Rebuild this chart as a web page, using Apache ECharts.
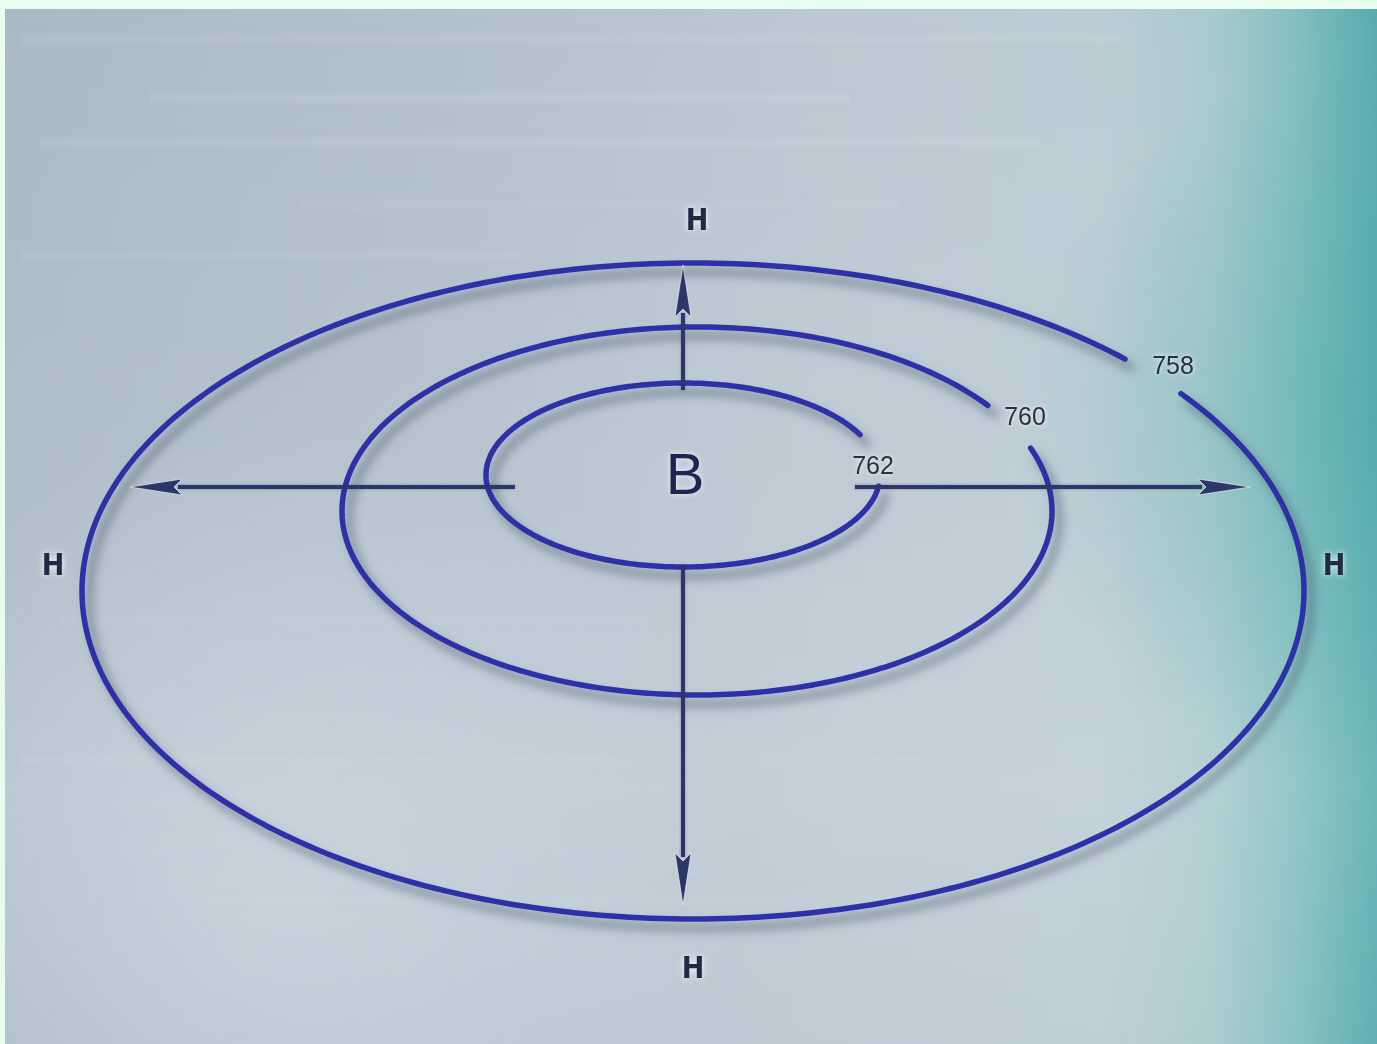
<!DOCTYPE html>
<html>
<head>
<meta charset="utf-8">
<script src="https://cdn.jsdelivr.net/npm/echarts@6/dist/echarts.min.js"></script>
<style>
html,body{margin:0;padding:0;background:#e8fdf0;}
#chart{width:1377px;height:1044px;}
</style>
</head>
<body>
<div id="chart"></div>
<script>
// Isobars (pressure, mm Hg) of the anticyclone
const isobarLevels = [762, 760, 758];
const isobarCenterX = [683, 697, 693];
const isobarCenterY = [475, 511, 591];
const isobarRadiusX = [197, 355, 611];
const isobarRadiusY = [92, 184, 328];
const gapStartDeg = [-26, -35, -45];
const gapEndDeg = [7, -20, -37];
const levelLabelX = [873, 1025, 1173];
const levelLabelY = [467, 418, 367];

// Wind arrows from the high-pressure centre
const arrowFromX = [515, 855, 683, 683];
const arrowFromY = [487, 487, 390, 565];
const arrowToX = [130, 1250, 683, 683];
const arrowToY = [487, 487, 265, 905];

// Pressure marks
const lowMarks = ['Н', 'Н', 'Н', 'Н'];
const lowMarkX = [697, 53, 1334, 693];
const lowMarkY = [222, 567, 567, 970];
const highMark = ['В'];
const highMarkX = [685];
const highMarkY = [478];

const isobarData = isobarLevels.map((v, i) => [isobarCenterX[i], isobarCenterY[i], isobarRadiusX[i], isobarRadiusY[i], gapStartDeg[i], gapEndDeg[i], v]);
const levelLabelData = isobarLevels.map((v, i) => [levelLabelX[i], levelLabelY[i], v]);
const arrowData = arrowFromX.map((v, i) => [v, arrowFromY[i], arrowToX[i], arrowToY[i]]);
const lowData = lowMarks.map((t, i) => [lowMarkX[i], lowMarkY[i], t]);
const highData = highMark.map((t, i) => [highMarkX[i], highMarkY[i], t]);

const chart = echarts.init(document.getElementById('chart'), null, {renderer: 'canvas'});

const W = 1377, H = 1044;
// decorative background streaks: [y, x start, width, opacity]
const streaks = [
  [38, 20, 1100, 0.07], [98, 150, 700, 0.10], [142, 40, 1000, 0.09], [205, 300, 600, 0.05],
  [255, 20, 500, 0.06], [620, 60, 600, 0.04], [760, 20, 900, 0.05], [900, 200, 700, 0.04]
];

const option = {
  backgroundColor: '#e8fdf0',
  animation: false,
  grid: {left: 0, right: 0, top: 0, bottom: 0},
  xAxis: {type: 'value', min: 0, max: W, show: false},
  yAxis: {type: 'value', min: 0, max: H, inverse: true, show: false},
  graphic: [
    {
      type: 'rect', z: -10, silent: true,
      shape: {x: 5, y: 9, width: W - 5, height: H - 9},
      style: {
        fill: new echarts.graphic.LinearGradient(0, 0, 1, 0, [
          {offset: 0, color: '#a8b7c5'},
          {offset: 0.35, color: '#b1bfcc'},
          {offset: 0.6, color: '#bac6d1'},
          {offset: 0.8, color: '#b9cad3'},
          {offset: 0.88, color: '#a6c8cc'},
          {offset: 0.94, color: '#80bdbf'},
          {offset: 1, color: '#52a9ab'}
        ])
      }
    },
    {
      type: 'rect', z: -9, silent: true,
      shape: {x: 5, y: 9, width: W - 5, height: H - 9},
      style: {
        fill: new echarts.graphic.LinearGradient(0, 0, 0, 1, [
          {offset: 0, color: 'rgba(255,255,255,0.03)'},
          {offset: 0.5, color: 'rgba(255,255,255,0.10)'},
          {offset: 0.75, color: 'rgba(255,255,255,0.16)'},
          {offset: 1, color: 'rgba(255,255,255,0.08)'}
        ])
      }
    },
    {
      type: 'rect', z: -9, silent: true,
      shape: {x: 5, y: 9, width: W - 5, height: H - 9},
      style: {
        fill: new echarts.graphic.RadialGradient(0.2, 0.85, 0.45, [
          {offset: 0, color: 'rgba(225,232,240,0.4)'},
          {offset: 1, color: 'rgba(225,232,240,0)'}
        ])
      }
    },
    {
      type: 'rect', z: -9, silent: true,
      shape: {x: 5, y: 9, width: W - 5, height: H - 9},
      style: {
        fill: new echarts.graphic.RadialGradient(1.0, 0.4, 0.35, [
          {offset: 0, color: 'rgba(60,165,160,0.35)'},
          {offset: 1, color: 'rgba(60,165,160,0)'}
        ])
      }
    }
  ].concat(streaks.map(s => ({
    type: 'rect', z: -8, silent: true,
    shape: {x: s[1], y: s[0] - 9, width: s[2], height: 18},
    style: {
      fill: new echarts.graphic.LinearGradient(0, 0, 0, 1, [
        {offset: 0, color: 'rgba(255,255,255,0)'},
        {offset: 0.5, color: 'rgba(255,255,255,' + s[3] + ')'},
        {offset: 1, color: 'rgba(255,255,255,0)'}
      ])
    }
  }))),
  series: [
    {
      type: 'custom',
      name: 'isobars',
      coordinateSystem: 'cartesian2d',
      data: isobarData,
      z: 2,
      renderItem: function (params, api) {
        const c = api.coord([api.value(0), api.value(1)]);
        const sz = api.size([api.value(2), api.value(3)]);
        const a0 = api.value(5), a1 = api.value(4) + 360;
        const pts = [];
        for (let a = a0; a <= a1 + 0.001; a += 1) {
          const t = a * Math.PI / 180;
          pts.push([c[0] + sz[0] * Math.cos(t), c[1] + sz[1] * Math.sin(t)]);
        }
        return {
          type: 'polyline',
          shape: {points: pts},
          style: {
            stroke: '#2d30a6', lineWidth: 5.5, fill: null, lineCap: 'round',
            shadowBlur: 10, shadowColor: 'rgba(55,65,85,0.55)', shadowOffsetX: 7, shadowOffsetY: 9
          }
        };
      }
    },
    {
      type: 'custom',
      name: 'arrows',
      coordinateSystem: 'cartesian2d',
      data: arrowData,
      z: 3,
      renderItem: function (params, api) {
        const p0 = api.coord([api.value(0), api.value(1)]);
        const p1 = api.coord([api.value(2), api.value(3)]);
        const dx = p1[0] - p0[0], dy = p1[1] - p0[1];
        const len = Math.sqrt(dx * dx + dy * dy);
        const ux = dx / len, uy = dy / len;
        const headLen = 52, headW = 8;
        const bx = p1[0] - ux * headLen, by = p1[1] - uy * headLen;
        const nx = -uy, ny = ux;
        const col = '#2b3768';
        return {
          type: 'group',
          children: [
            {
              type: 'line',
              shape: {x1: p0[0], y1: p0[1], x2: bx + ux * 4, y2: by + uy * 4},
              style: {stroke: col, lineWidth: 4, shadowBlur: 3, shadowColor: 'rgba(40,50,90,0.4)'}
            },
            {
              type: 'polygon',
              shape: {points: [[p1[0], p1[1]], [bx + nx * headW, by + ny * headW], [bx + ux * 8, by + uy * 8], [bx - nx * headW, by - ny * headW]]},
              style: {fill: col, stroke: 'rgba(255,255,255,0.6)', lineWidth: 1}
            }
          ]
        };
      }
    },
    {
      type: 'custom',
      name: 'levels',
      coordinateSystem: 'cartesian2d',
      data: levelLabelData,
      z: 4,
      renderItem: function (params, api) {
        const p = api.coord([api.value(0), api.value(1)]);
        return {
          type: 'text',
          style: {
            x: p[0], y: p[1], text: String(api.value(2)),
            align: 'center', verticalAlign: 'middle',
            font: '25px "Liberation Sans", Arial, sans-serif',
            fill: '#283044', textShadowColor: 'rgba(255,255,255,0.9)', textShadowBlur: 4
          }
        };
      }
    },
    {
      type: 'custom',
      name: 'low',
      coordinateSystem: 'cartesian2d',
      data: lowData,
      z: 4,
      renderItem: function (params, api) {
        const p = api.coord([api.value(0), api.value(1)]);
        return {
          type: 'text',
          style: {
            x: p[0], y: p[1], text: lowMarks[params.dataIndex],
            align: 'center', verticalAlign: 'middle',
            font: 'bold 30px "DejaVu Sans Condensed", "Liberation Sans Narrow", sans-serif',
            fill: '#1f2a46', textShadowColor: 'rgba(255,255,255,0.95)', textShadowBlur: 6
          }
        };
      }
    },
    {
      type: 'custom',
      name: 'high',
      coordinateSystem: 'cartesian2d',
      data: highData,
      z: 4,
      renderItem: function (params, api) {
        const p = api.coord([api.value(0), api.value(1)]);
        return {
          type: 'text',
          style: {
            x: p[0], y: p[1], text: highMark[params.dataIndex],
            align: 'center', verticalAlign: 'middle',
            font: '58px "Liberation Sans", Arial, sans-serif',
            fill: '#1e2552', textShadowColor: 'rgba(255,255,255,0.8)', textShadowBlur: 6
          }
        };
      }
    }
  ]
};
chart.setOption(option);
</script>
</body>
</html>
